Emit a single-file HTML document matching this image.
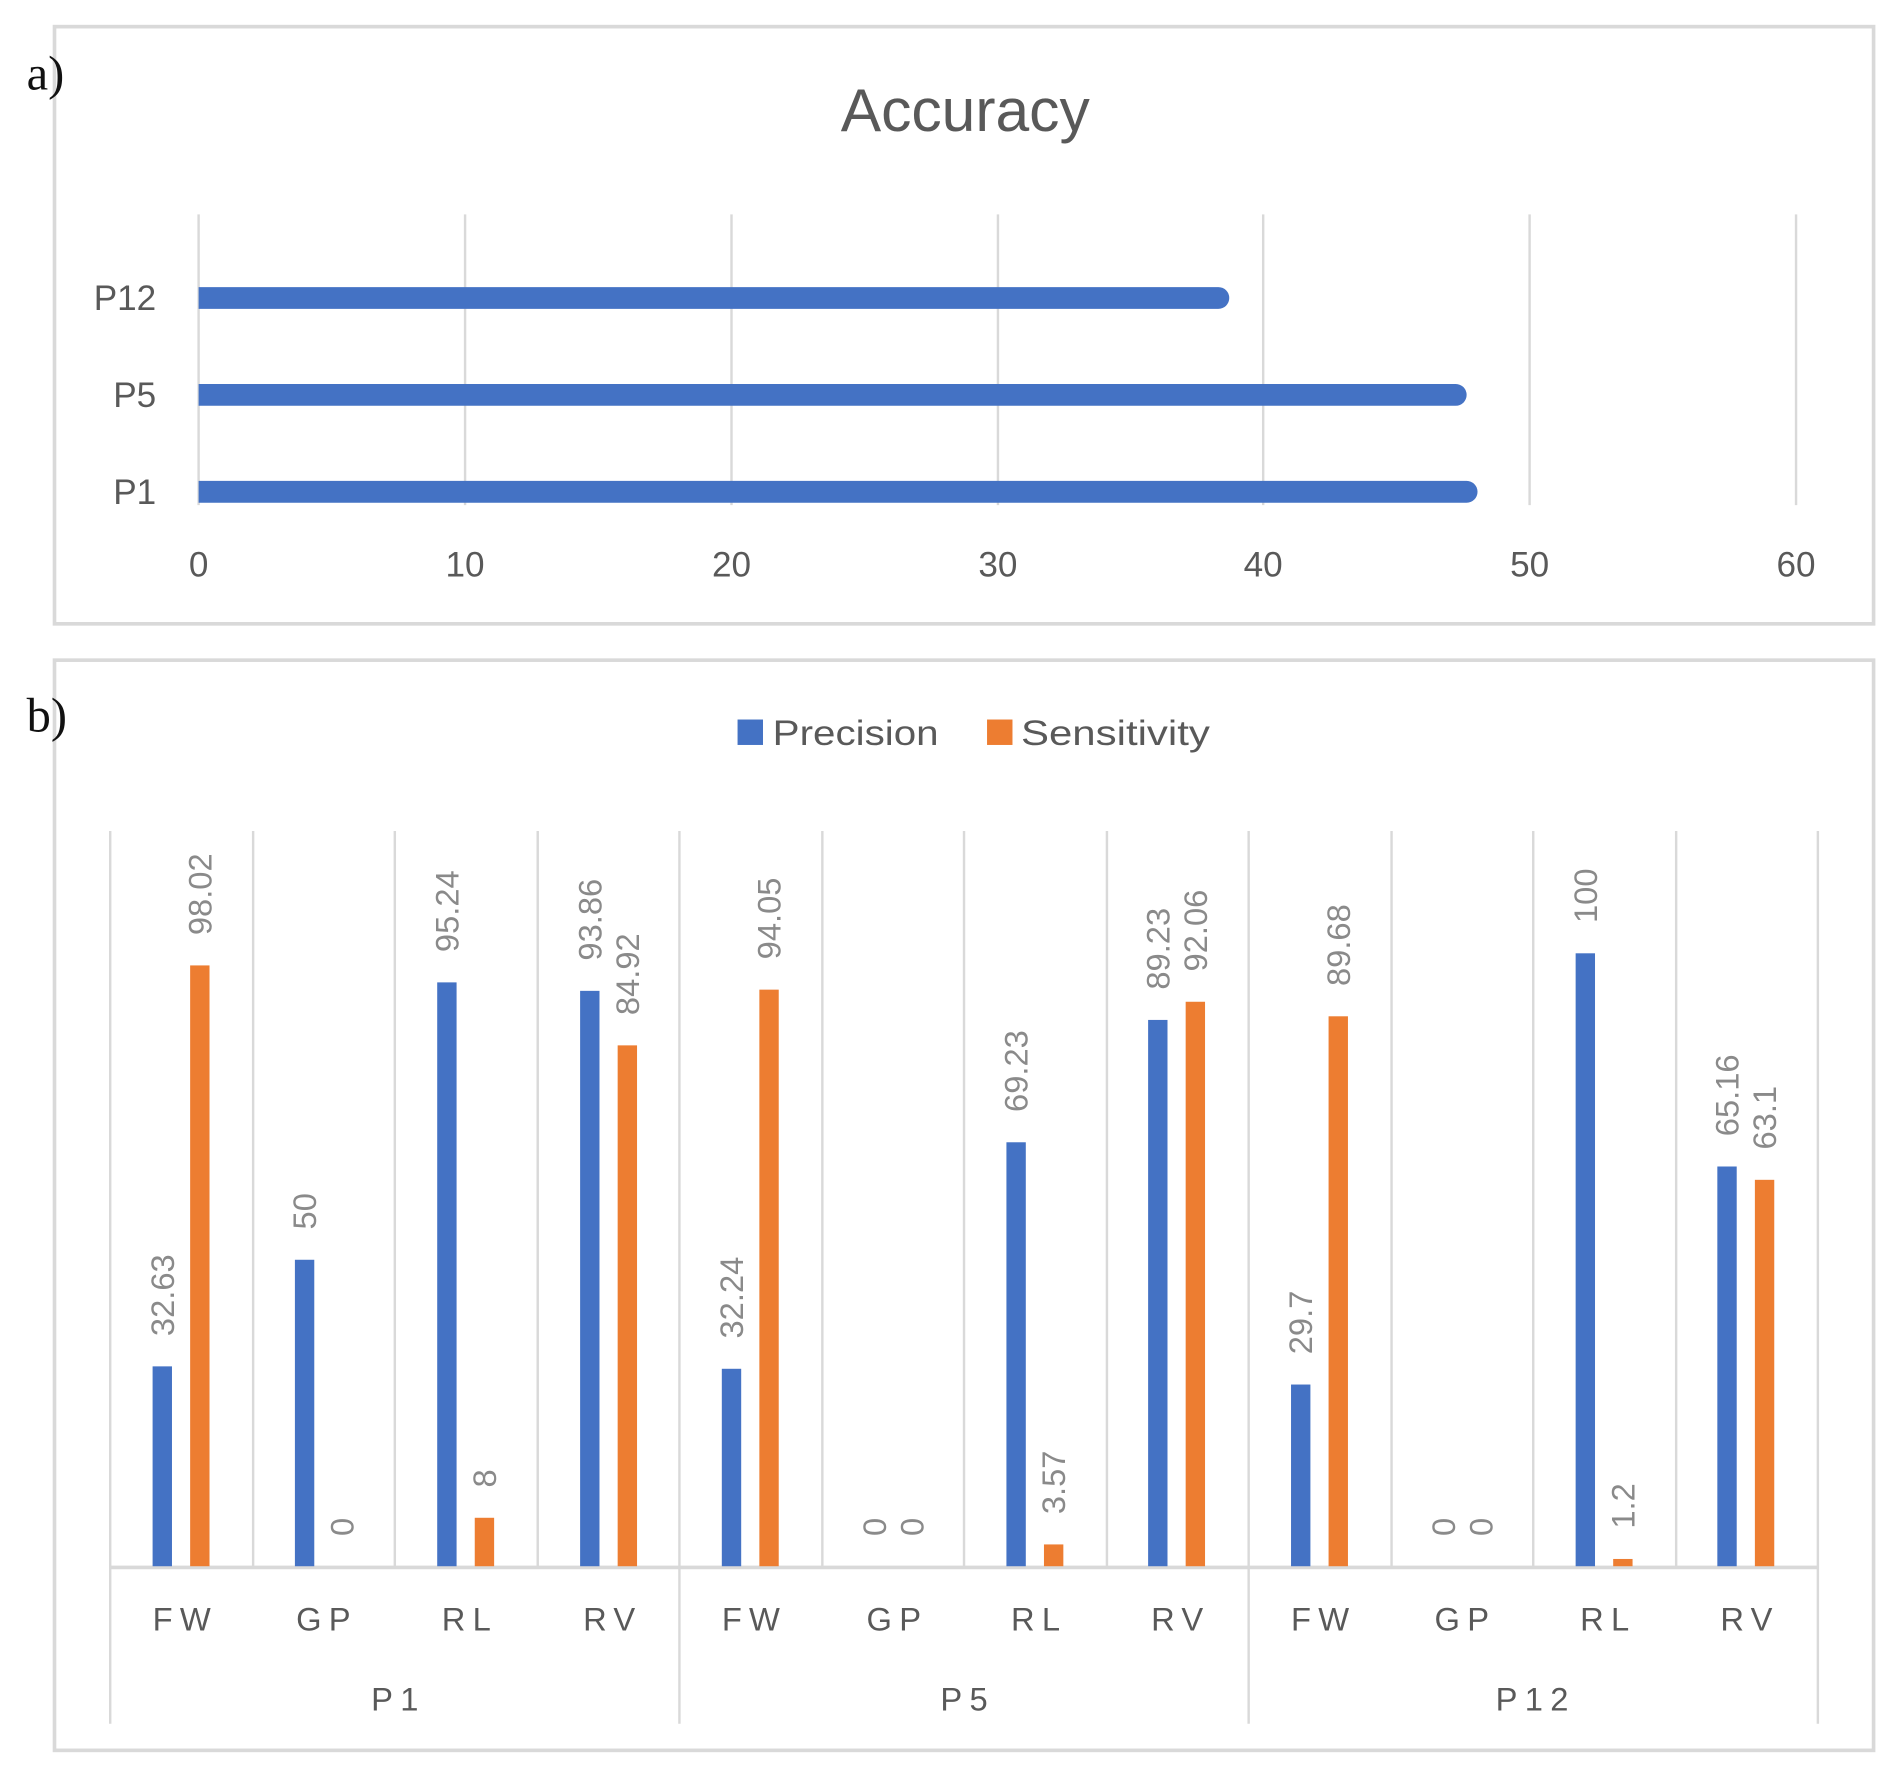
<!DOCTYPE html>
<html><head><meta charset="utf-8"><style>
html,body{margin:0;padding:0;background:#fff;}
svg{display:block;}
text{font-family:"Liberation Sans",sans-serif;}
</style></head><body>
<svg width="1899" height="1777" viewBox="0 0 1568 1467" preserveAspectRatio="none" xmlns="http://www.w3.org/2000/svg">
<rect x="0" y="0" width="1568" height="1467" fill="#fff"/>
<!-- Panel a -->
<rect x="45" y="22" width="1502" height="493" fill="#fff" stroke="#d9d9d9" stroke-width="3"/>
<text x="22" y="74" font-size="40" fill="#111" style="font-family:'Liberation Serif',serif">a)</text>
<text x="797" y="108" text-anchor="middle" font-size="50" fill="#595959">Accuracy</text>
<g stroke="#d9d9d9" stroke-width="2">
<line x1="164" y1="177" x2="164" y2="417"/><line x1="384" y1="177" x2="384" y2="417"/>
<line x1="604" y1="177" x2="604" y2="417"/><line x1="824" y1="177" x2="824" y2="417"/>
<line x1="1043" y1="177" x2="1043" y2="417"/><line x1="1263" y1="177" x2="1263" y2="417"/>
<line x1="1483" y1="177" x2="1483" y2="417"/>
</g>
<g fill="#4472C4">
<path d="M164,237 H1006 A9,9 0 0 1 1006,255 H164 Z"/>
<path d="M164,317 H1202 A9,9 0 0 1 1202,335 H164 Z"/>
<path d="M164,397 H1211 A9,9 0 0 1 1211,415 H164 Z"/>
</g>
<g font-size="29" fill="#595959" text-anchor="end">
<text x="129" y="256">P12</text><text x="129" y="336">P5</text><text x="129" y="416">P1</text>
</g>
<g font-size="29" fill="#595959" text-anchor="middle">
<text x="164" y="476">0</text><text x="384" y="476">10</text><text x="604" y="476">20</text>
<text x="824" y="476">30</text><text x="1043" y="476">40</text><text x="1263" y="476">50</text><text x="1483" y="476">60</text>
</g>
<!-- Panel b -->
<rect x="45" y="545" width="1502" height="900" fill="#fff" stroke="#d9d9d9" stroke-width="3"/>
<text x="22" y="604" font-size="40" fill="#111" style="font-family:'Liberation Serif',serif">b)</text>
<rect x="609" y="594" width="21" height="21" fill="#4472C4"/>
<text x="638" y="615" font-size="29" fill="#595959" textLength="137" lengthAdjust="spacingAndGlyphs">Precision</text>
<rect x="815" y="594" width="21" height="21" fill="#ED7D31"/>
<text x="843" y="615" font-size="29" fill="#595959" textLength="156" lengthAdjust="spacingAndGlyphs">Sensitivity</text>
<g stroke="#d9d9d9" stroke-width="2">
<line x1="209" y1="686" x2="209" y2="1293"/><line x1="326" y1="686" x2="326" y2="1293"/>
<line x1="444" y1="686" x2="444" y2="1293"/><line x1="679" y1="686" x2="679" y2="1293"/>
<line x1="796" y1="686" x2="796" y2="1293"/><line x1="914" y1="686" x2="914" y2="1293"/>
<line x1="1149" y1="686" x2="1149" y2="1293"/><line x1="1266" y1="686" x2="1266" y2="1293"/>
<line x1="1384" y1="686" x2="1384" y2="1293"/>
<line x1="91" y1="686" x2="91" y2="1423"/><line x1="561" y1="686" x2="561" y2="1423"/>
<line x1="1031" y1="686" x2="1031" y2="1423"/><line x1="1501" y1="686" x2="1501" y2="1423"/>
</g>
<line x1="91" y1="1294" x2="1501" y2="1294" stroke="#d9d9d9" stroke-width="3"/>
<g fill="#4472C4">
<rect x="126" y="1128" width="16" height="165"/>
<rect x="243.5" y="1040" width="16" height="253"/>
<rect x="361" y="811" width="16" height="482"/>
<rect x="479" y="818" width="16" height="475"/>
<rect x="596" y="1130" width="16" height="163"/>
<rect x="831" y="943" width="16" height="350"/>
<rect x="948" y="842" width="16" height="451"/>
<rect x="1066" y="1143" width="16" height="150"/>
<rect x="1301" y="787" width="16" height="506"/>
<rect x="1418" y="963" width="16" height="330"/>
</g>
<g fill="#ED7D31">
<rect x="157" y="797" width="16" height="496"/>
<rect x="392" y="1253" width="16" height="40"/>
<rect x="510" y="863" width="16" height="430"/>
<rect x="627" y="817" width="16" height="476"/>
<rect x="862" y="1275" width="16" height="18"/>
<rect x="979" y="827" width="16" height="466"/>
<rect x="1097" y="839" width="16" height="454"/>
<rect x="1332" y="1287" width="16" height="6"/>
<rect x="1449" y="974" width="16" height="319"/>
</g>
<g font-size="27" fill="#8a8a8a">
<text transform="translate(134,1103) rotate(-90)" dominant-baseline="central">32.63</text>
<text transform="translate(165,772) rotate(-90)" dominant-baseline="central">98.02</text>
<text transform="translate(251.5,1015) rotate(-90)" dominant-baseline="central">50</text>
<text transform="translate(282.5,1268) rotate(-90)" dominant-baseline="central">0</text>
<text transform="translate(369,786) rotate(-90)" dominant-baseline="central">95.24</text>
<text transform="translate(400,1228) rotate(-90)" dominant-baseline="central">8</text>
<text transform="translate(487,793) rotate(-90)" dominant-baseline="central">93.86</text>
<text transform="translate(518,838) rotate(-90)" dominant-baseline="central">84.92</text>
<text transform="translate(604,1105) rotate(-90)" dominant-baseline="central">32.24</text>
<text transform="translate(635,792) rotate(-90)" dominant-baseline="central">94.05</text>
<text transform="translate(722,1268) rotate(-90)" dominant-baseline="central">0</text>
<text transform="translate(753,1268) rotate(-90)" dominant-baseline="central">0</text>
<text transform="translate(839,918) rotate(-90)" dominant-baseline="central">69.23</text>
<text transform="translate(870,1250) rotate(-90)" dominant-baseline="central">3.57</text>
<text transform="translate(956,817) rotate(-90)" dominant-baseline="central">89.23</text>
<text transform="translate(987,802) rotate(-90)" dominant-baseline="central">92.06</text>
<text transform="translate(1074,1118) rotate(-90)" dominant-baseline="central">29.7</text>
<text transform="translate(1105,814) rotate(-90)" dominant-baseline="central">89.68</text>
<text transform="translate(1192,1268) rotate(-90)" dominant-baseline="central">0</text>
<text transform="translate(1223,1268) rotate(-90)" dominant-baseline="central">0</text>
<text transform="translate(1309,762) rotate(-90)" dominant-baseline="central">100</text>
<text transform="translate(1340,1262) rotate(-90)" dominant-baseline="central">1.2</text>
<text transform="translate(1426,938) rotate(-90)" dominant-baseline="central">65.16</text>
<text transform="translate(1457,949) rotate(-90)" dominant-baseline="central">63.1</text>
</g>
<g font-size="27" fill="#595959" text-anchor="middle" letter-spacing="6">
<text x="153" y="1346">FW</text><text x="270" y="1346">GP</text><text x="388" y="1346">RL</text><text x="506" y="1346">RV</text>
<text x="623" y="1346">FW</text><text x="741" y="1346">GP</text><text x="858" y="1346">RL</text><text x="975" y="1346">RV</text>
<text x="1093" y="1346">FW</text><text x="1210" y="1346">GP</text><text x="1328" y="1346">RL</text><text x="1445" y="1346">RV</text>
<text x="329" y="1412">P1</text><text x="799" y="1412">P5</text><text x="1268" y="1412">P12</text>
</g>
</svg>
</body></html>
